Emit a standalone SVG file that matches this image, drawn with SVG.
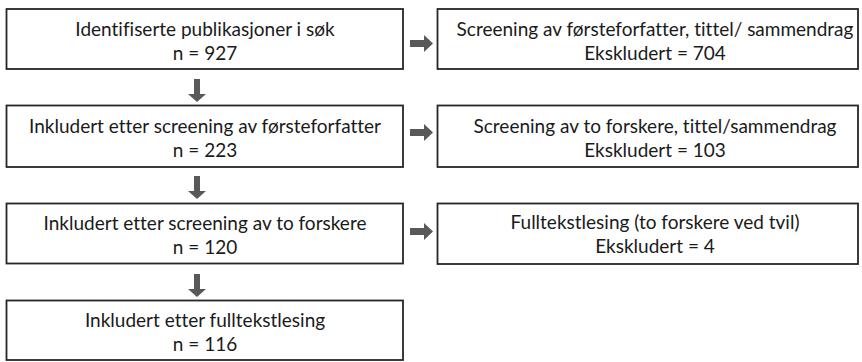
<svg xmlns="http://www.w3.org/2000/svg" width="862" height="362" viewBox="0 0 862 362">
<style>
.box{fill:#fff;stroke:#262626;stroke-width:1.8}
.t{font-family:Lato,"Liberation Sans",sans-serif;font-size:19px;fill:#1a1a1a;text-anchor:middle;font-variant-ligatures:none}
.arr{fill:#595959}
</style>
<rect width="862" height="362" fill="#fff"/>
<g id="n1"><rect class="box" x="6.5" y="9" width="396.5" height="60"/><text class="t" x="205" y="36">Identifiserte publikasjoner i søk</text><text class="t" x="205" y="59.5">n = 927</text></g>
<g id="e1"><rect class="box" x="437.5" y="9" width="420.5" height="60"/><text class="t" x="655" y="36">Screening av førsteforfatter, tittel/ sammendrag</text><text class="t" x="655" y="59.5">Ekskludert = 704</text></g>
<g id="n2"><rect class="box" x="6.5" y="105.5" width="396.5" height="61.5"/><text class="t" x="205" y="133">Inkludert etter screening av førsteforfatter</text><text class="t" x="205" y="156.5">n = 223</text></g>
<g id="e2"><rect class="box" x="437.5" y="105.5" width="420.5" height="61.5"/><text class="t" x="655" y="133">Screening av to forskere, tittel/sammendrag</text><text class="t" x="655" y="156.5">Ekskludert = 103</text></g>
<g id="n3"><rect class="box" x="6.5" y="203.5" width="396.5" height="60"/><text class="t" x="205" y="230">Inkludert etter screening av to forskere</text><text class="t" x="205" y="253.5">n = 120</text></g>
<g id="e3"><rect class="box" x="437.5" y="203.5" width="420.5" height="60.5"/><text class="t" x="655" y="229">Fulltekstlesing (to forskere ved tvil)</text><text class="t" x="655" y="252.5">Ekskludert = 4</text></g>
<g id="n4"><rect class="box" x="6.5" y="300.5" width="396.5" height="59.5"/><text class="t" x="205" y="327">Inkludert etter fulltekstlesing</text><text class="t" x="205" y="350.5">n = 116</text></g>
<g id="connectors">
<polygon class="arr" points="194,79 200,79 200,94 206,94 197,102 188,94 194,94"/>
<polygon class="arr" points="194,176 200,176 200,191 206,191 197,199 188,191 194,191"/>
<polygon class="arr" points="194,274 200,274 200,289 206,289 197,297 188,289 194,289"/>
<polygon class="arr" points="410,40 424,40 424,35 433,43.5 424,52 424,47 410,47"/>
<polygon class="arr" points="410,129 424,129 424,124 433,132.5 424,141 424,136 410,136"/>
<polygon class="arr" points="410,228 424,228 424,223 433,231.5 424,240 424,235 410,235"/>
</g>
</svg>
